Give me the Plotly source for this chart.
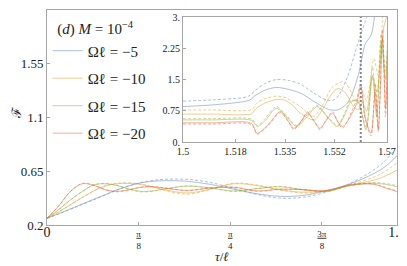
import plotly.graph_objects as go

# ---------------- data ----------------
series_names = ["Ωℓ = −5", "Ωℓ = −10", "Ωℓ = −15", "Ωℓ = −20"]
series_colors = ["rgba(94,129,181,0.5)", "rgba(225,156,36,0.5)",
                 "rgba(143,176,50,0.5)", "rgba(235,98,53,0.5)"]

main_tau = [0, 0.05, 0.1, 0.15, 0.2, 0.25, 0.3, 0.35, 0.4, 0.45, 0.5,
            0.6, 0.7, 0.8, 0.9, 1.0, 1.1, 1.2, 1.3, 1.4, 1.45, 1.5]

main_solid = [
    [0.256, 0.295, 0.335, 0.375, 0.415, 0.455, 0.495, 0.527, 0.552, 0.565, 0.571,
     0.566, 0.54, 0.5, 0.462, 0.44, 0.448, 0.49, 0.545, 0.63, 0.69, 0.78],
    [0.256, 0.31, 0.37, 0.43, 0.485, 0.527, 0.545, 0.548, 0.54, 0.52, 0.497,
     0.468, 0.5, 0.545, 0.53, 0.495, 0.475, 0.49, 0.535, 0.575, 0.61, 0.66],
    [0.256, 0.33, 0.41, 0.48, 0.535, 0.545, 0.53, 0.503, 0.482, 0.485, 0.5,
     0.525, 0.51, 0.485, 0.505, 0.52, 0.495, 0.483, 0.53, 0.55, 0.54, 0.52],
    [0.256, 0.36, 0.48, 0.545, 0.532, 0.495, 0.482, 0.495, 0.515, 0.52, 0.51,
     0.49, 0.51, 0.515, 0.485, 0.5, 0.495, 0.488, 0.535, 0.54, 0.51, 0.48],
]
main_dashed = [
    [0.256, 0.292, 0.331, 0.371, 0.411, 0.451, 0.492, 0.527, 0.555, 0.572, 0.582,
     0.582, 0.556, 0.506, 0.456, 0.425, 0.433, 0.478, 0.55, 0.66, 0.74, 0.86],
    [0.256, 0.308, 0.368, 0.428, 0.485, 0.53, 0.55, 0.553, 0.543, 0.52, 0.492,
     0.458, 0.498, 0.55, 0.535, 0.492, 0.468, 0.485, 0.538, 0.6, 0.65, 0.72],
    [0.256, 0.328, 0.408, 0.478, 0.535, 0.548, 0.532, 0.5, 0.478, 0.482, 0.5,
     0.528, 0.51, 0.48, 0.505, 0.523, 0.495, 0.48, 0.53, 0.555, 0.548, 0.53],
    [0.256, 0.358, 0.478, 0.548, 0.535, 0.495, 0.478, 0.493, 0.516, 0.522, 0.512,
     0.488, 0.51, 0.518, 0.483, 0.5, 0.496, 0.485, 0.537, 0.545, 0.515, 0.485],
]

# inset (zoom near the end)
inset_blue_x = [1.5, 1.51, 1.52, 1.523, 1.5245, 1.528, 1.532, 1.537, 1.541, 1.545,
                1.55, 1.553, 1.556, 1.558, 1.5605, 1.5625, 1.564, 1.5648, 1.5658]
inset_blue_y = [0.85, 0.89, 0.96, 1.01, 1.1, 1.24, 1.31, 1.25, 1.15, 0.97,
                0.78, 0.77, 0.9, 1.15, 1.7, 2.35, 2.5, 2.62, 3.05]
inset_blue_dash_x = [1.5, 1.51, 1.52, 1.5225, 1.525, 1.528, 1.532, 1.536, 1.54, 1.545,
                     1.5495, 1.552, 1.5535, 1.5565, 1.56, 1.5633]
inset_blue_dash_y = [0.98, 1.01, 1.06, 1.1, 1.25, 1.4, 1.5, 1.48, 1.4, 1.17,
                     1.0, 1.02, 1.13, 1.57, 2.37, 3.05]

inset_orange_x = [1.5, 1.51, 1.5235, 1.525, 1.528, 1.532, 1.535, 1.5375, 1.5403, 1.545,
                  1.548, 1.551, 1.553, 1.5555, 1.5585, 1.56, 1.5615, 1.563, 1.565,
                  1.5665, 1.569, 1.5705]
inset_orange_y = [0.67, 0.67, 0.68, 0.8, 0.93, 1.02, 1.0, 0.89, 0.69, 0.53,
                  0.8, 1.15, 1.28, 1.2, 0.85, 0.77, 0.95, 0.75, 1.6,
                  1.2, 2.8, 3.1]
inset_orange_dash_x = [1.5, 1.51, 1.5235, 1.5255, 1.529, 1.532, 1.535, 1.5375, 1.5403,
                       1.543, 1.545, 1.548, 1.551, 1.5536, 1.5555, 1.558, 1.56, 1.5615,
                       1.563, 1.5655, 1.567, 1.5685]
inset_orange_dash_y = [0.77, 0.77, 0.78, 0.95, 1.06, 1.1, 1.07, 0.97, 0.85,
                       0.68, 0.62, 0.9, 1.3, 1.42, 1.45, 1.15, 0.93, 1.2,
                       1.0, 2.0, 1.6, 3.1]

inset_green_x = [1.5, 1.51, 1.5235, 1.5255, 1.528, 1.532, 1.535, 1.539, 1.5425, 1.546,
                 1.5495, 1.553, 1.5555, 1.5575, 1.56, 1.5628, 1.565, 1.5665, 1.568,
                 1.5695, 1.5705]
inset_green_y = [0.53, 0.53, 0.52, 0.37, 0.5, 0.81, 0.65, 0.37, 0.6, 0.85,
                 0.6, 0.37, 0.65, 0.95, 1.0, 0.29, 1.57, 0.6, 2.4,
                 1.5, 3.1]
inset_green_dash_y = [0.56, 0.56, 0.55, 0.4, 0.55, 0.85, 0.68, 0.4, 0.65, 0.88,
                      0.62, 0.4, 0.7, 1.0, 0.95, 0.35, 1.8, 0.7, 2.6,
                      1.7, 3.1]

inset_red_x = [1.5, 1.51, 1.5235, 1.5254, 1.529, 1.5334, 1.536, 1.538, 1.5405, 1.5427,
               1.545, 1.547, 1.549, 1.5513, 1.553, 1.5547, 1.5565, 1.558, 1.5595,
               1.561, 1.5625, 1.5645, 1.566, 1.567, 1.5685, 1.5695, 1.5705]
inset_red_y = [0.46, 0.46, 0.45, 0.21, 0.4, 0.73, 0.52, 0.33, 0.5, 0.69,
               0.5, 0.33, 0.5, 0.69, 0.5, 0.37, 0.5, 0.69, 0.9,
               1.33, 0.6, 0.21, 1.2, 0.3, 2.5, 0.8, 3.1]
inset_red_dash_y = [0.43, 0.43, 0.42, 0.19, 0.38, 0.7, 0.5, 0.3, 0.48, 0.72,
                    0.5, 0.3, 0.52, 0.73, 0.5, 0.33, 0.52, 0.75, 1.0,
                    1.4, 0.55, 0.15, 1.4, 0.25, 2.7, 0.6, 3.1]

inset_solid = [(inset_blue_x, inset_blue_y), (inset_orange_x, inset_orange_y),
               (inset_green_x, inset_green_y), (inset_red_x, inset_red_y)]
inset_dashed = [(inset_blue_dash_x, inset_blue_dash_y), (inset_orange_dash_x, inset_orange_dash_y),
                (inset_green_x, inset_green_dash_y), (inset_red_x, inset_red_dash_y)]

singular_tau = 1.561  # vertical dotted marker in inset

main_xtick_vals = [0, 0.39269908, 0.78539816, 1.17809725, 1.5]
main_xtick_text = ["<span style='font-size:14px'>0</span>", "<u>π</u><br>8", "<u>π</u><br>4",
                   "<u>3π</u><br>8", "<span style='font-size:14px'>1.5</span>"]
main_ytick_vals = [0.2, 0.65, 1.1, 1.55, 2.0]
main_ytick_text = ["0.2", "0.65", "1.1", "1.55", "2."]
inset_xtick_vals = [1.5, 1.518, 1.535, 1.552, 1.57]
inset_xtick_text = ["1.5", "1.518", "1.535", "1.552", "1.57"]
inset_ytick_vals = [0, 0.75, 1.5, 2.25, 3.0]
inset_ytick_text = ["0.", "0.75", "1.5", "2.25", "3."]

# ---------------- figure ----------------
FONT = "Liberation Serif"
AX = "#a6a6a6"
fig = go.Figure()

for i in range(4):
    fig.add_trace(go.Scatter(x=main_tau, y=main_dashed[i], mode="lines",
                             line=dict(color=series_colors[i], width=1, dash="3px,2px", shape="spline"),
                             showlegend=False, hoverinfo="skip"))
    fig.add_trace(go.Scatter(x=main_tau, y=main_solid[i], mode="lines", name=series_names[i],
                             legendgroup=f"g{i}",
                             line=dict(color=series_colors[i], width=1, shape="spline")))

for i in range(4):
    xd, yd = inset_dashed[i]
    xs, ys = inset_solid[i]
    fig.add_trace(go.Scatter(x=xd, y=yd, mode="lines", xaxis="x2", yaxis="y2",
                             line=dict(color=series_colors[i], width=1, dash="3px,2px", shape="spline", smoothing=0.8),
                             showlegend=False, hoverinfo="skip"))
    fig.add_trace(go.Scatter(x=xs, y=ys, mode="lines", xaxis="x2", yaxis="y2",
                             line=dict(color=series_colors[i], width=1, shape="spline", smoothing=0.8),
                             showlegend=False, hoverinfo="skip"))

fig.add_trace(go.Scatter(x=[singular_tau, singular_tau], y=[inset_ytick_vals[0], inset_ytick_vals[-1]],
                         mode="lines", xaxis="x2", yaxis="y2",
                         line=dict(color="#888888", width=2, dash="2px,2px"),
                         showlegend=False, hoverinfo="skip"))

axis_common = dict(showline=True, linecolor=AX, linewidth=1, mirror=True, ticks="inside",
                   tickcolor=AX, ticklen=3, showgrid=False, zeroline=False, automargin=False)

# the page adds an 8px body margin; the figure is sized to the visible area
fig.update_layout(
    template="none",
    width=399, height=258,
    margin=dict(l=39, r=10, t=2, b=41),
    paper_bgcolor="white", plot_bgcolor="white",
    font=dict(family=FONT, color="#222222"),
    xaxis=dict(domain=[0, 1], range=[0, 1.5], tickmode="array", tickvals=main_xtick_vals,
               ticktext=main_xtick_text, tickfont=dict(size=9, family=FONT), **axis_common),
    yaxis=dict(domain=[0, 1], range=[0.2, 2.0], tickmode="array", tickvals=main_ytick_vals,
               ticktext=main_ytick_text, tickfont=dict(size=13, family=FONT), **axis_common),
    xaxis2=dict(domain=[0.3886, 0.9714], anchor="y2", range=[1.5, 1.57], tickmode="array",
                tickvals=inset_xtick_vals, ticktext=inset_xtick_text,
                tickfont=dict(size=10, family=FONT), **axis_common),
    yaxis2=dict(domain=[0.386, 0.9674], anchor="x2", range=[0, 3], tickmode="array",
                tickvals=inset_ytick_vals, ticktext=inset_ytick_text,
                tickfont=dict(size=10, family=FONT), **axis_common),
    legend=dict(x=0.002, y=0.977, xanchor="left", yanchor="top", bgcolor="rgba(0,0,0,0)",
                font=dict(size=15, family=FONT), tracegroupgap=5, itemwidth=30,
                title=dict(text="\u2002(<i>d</i>) <i>M</i> = 10<sup>−4</sup>", font=dict(size=15, family=FONT))),
    annotations=[
        dict(text="<i>τ</i>/<i>ℓ</i>", xref="paper", yref="paper", x=0.5, y=-0.148,
             xanchor="center", yanchor="middle", showarrow=False, font=dict(size=13, family=FONT)),
        dict(text="ℱ", xref="paper", yref="paper", x=-0.086, y=0.526, textangle=-90,
             xanchor="center", yanchor="middle", showarrow=False, font=dict(size=13, family=FONT)),
    ],
)

fig.write_html("out.html")
